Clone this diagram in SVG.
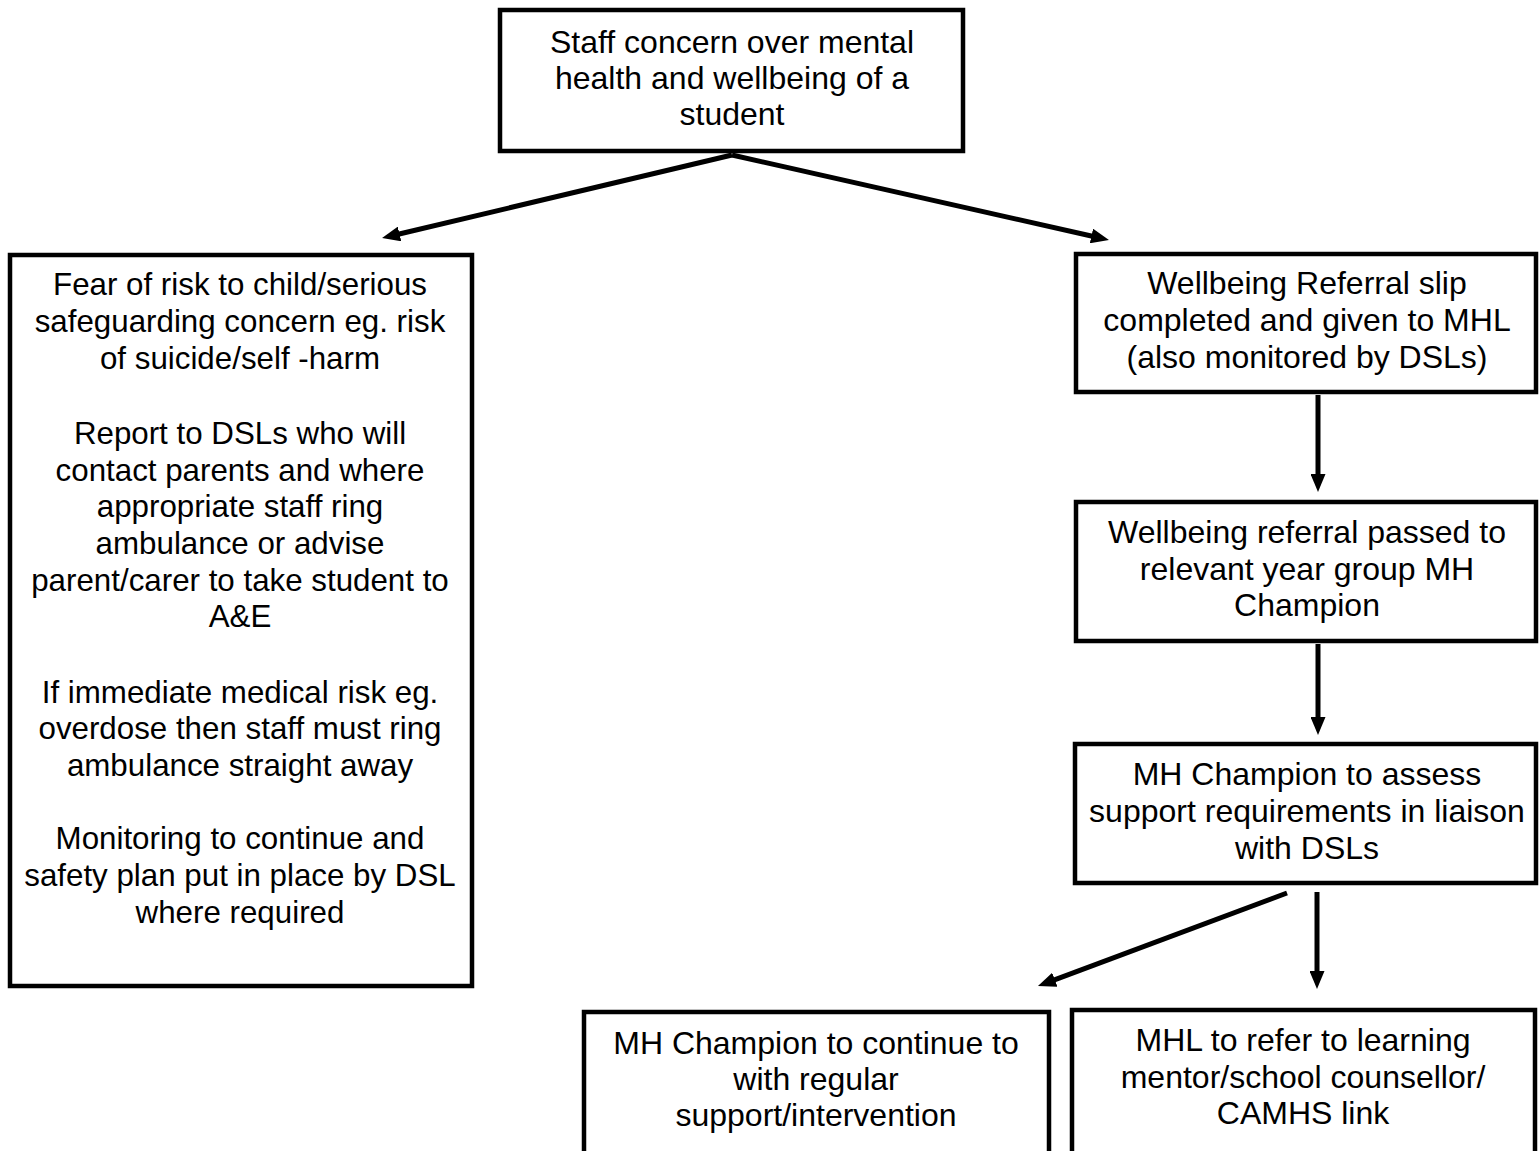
<svg xmlns="http://www.w3.org/2000/svg" width="1540" height="1151" viewBox="0 0 1540 1151">
<style>
.box{fill:#fff;stroke:#000;stroke-width:4.5}
.t{font-family:"Liberation Sans",Arial,sans-serif;font-size:32px;fill:#000;text-anchor:middle}
.s{font-size:31.3px}
.c{stroke:#000;stroke-width:5;fill:none}
</style>
<defs>
<marker id="ah" viewBox="0 0 18 15" refX="9" refY="7.5" markerWidth="18" markerHeight="15" markerUnits="userSpaceOnUse" orient="auto">
<path d="M0,0 L18,7.5 L0,15 z" fill="#000"/>
</marker>
</defs>
<rect width="1540" height="1151" fill="#fff"/>
<g id="connectors">
<line class="c" x1="732" y1="155" x2="390.8" y2="236" marker-end="url(#ah)"/>
<line class="c" x1="732" y1="155" x2="1100.2" y2="238" marker-end="url(#ah)"/>
<line class="c" x1="1318" y1="395" x2="1318" y2="483" marker-end="url(#ah)"/>
<line class="c" x1="1318" y1="644" x2="1318" y2="726" marker-end="url(#ah)"/>
<line class="c" x1="1287" y1="893" x2="1046.4" y2="982.9" marker-end="url(#ah)"/>
<line class="c" x1="1317" y1="892" x2="1317" y2="980" marker-end="url(#ah)"/>
</g>
<g id="n-top">
<rect class="box" x="500" y="10" width="463" height="141"/>
<text class="t" x="732" y="53">Staff concern over mental</text>
<text class="t" x="732" y="89">health and wellbeing of a</text>
<text class="t" x="732" y="125">student</text>
</g>
<g id="n-left">
<rect class="box" x="10" y="255" width="462" height="731"/>
<text class="t s" x="240" y="295">Fear of risk to child/serious</text>
<text class="t s" x="240" y="332">safeguarding concern eg. risk</text>
<text class="t s" x="240" y="369">of suicide/self -harm</text>
<text class="t s" x="240" y="444">Report to DSLs who will</text>
<text class="t s" x="240" y="481">contact parents and where</text>
<text class="t s" x="240" y="517">appropriate staff ring</text>
<text class="t s" x="240" y="554">ambulance or advise</text>
<text class="t s" x="240" y="591">parent/carer to take student to</text>
<text class="t s" x="240" y="627">A&amp;E</text>
<text class="t s" x="240" y="703">If immediate medical risk eg.</text>
<text class="t s" x="240" y="739">overdose then staff must ring</text>
<text class="t s" x="240" y="776">ambulance straight away</text>
<text class="t s" x="240" y="849">Monitoring to continue and</text>
<text class="t s" x="240" y="886">safety plan put in place by DSL</text>
<text class="t s" x="240" y="923">where required</text>
</g>
<g id="n-referral">
<rect class="box" x="1076" y="254" width="460" height="138"/>
<text class="t" x="1307" y="294">Wellbeing Referral slip</text>
<text class="t" x="1307" y="331">completed and given to MHL</text>
<text class="t" x="1307" y="368">(also monitored by DSLs)</text>
</g>
<g id="n-passed">
<rect class="box" x="1076" y="502" width="460" height="139"/>
<text class="t" x="1307" y="543">Wellbeing referral passed to</text>
<text class="t" x="1307" y="580">relevant year group MH</text>
<text class="t" x="1307" y="616">Champion</text>
</g>
<g id="n-assess">
<rect class="box" x="1075" y="744" width="461" height="139"/>
<text class="t" x="1307" y="785">MH Champion to assess</text>
<text class="t" x="1307" y="822">support requirements in liaison</text>
<text class="t" x="1307" y="859">with DSLs</text>
</g>
<g id="n-continue">
<rect class="box" x="584" y="1012" width="465" height="160"/>
<text class="t" x="816" y="1054">MH Champion to continue to</text>
<text class="t" x="816" y="1090">with regular</text>
<text class="t" x="816" y="1126">support/intervention</text>
</g>
<g id="n-refer">
<rect class="box" x="1072" y="1010" width="463" height="160"/>
<text class="t" x="1303" y="1051">MHL to refer to learning</text>
<text class="t" x="1303" y="1088">mentor/school counsellor/</text>
<text class="t" x="1303" y="1124">CAMHS link</text>
</g>
</svg>
